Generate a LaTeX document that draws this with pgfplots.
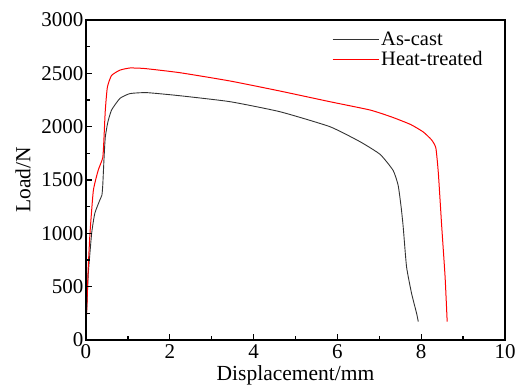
\documentclass[border=0pt]{standalone}
\usepackage{fontspec}
\setmainfont{Liberation Serif}
\usepackage{pgfplots}
\pgfplotsset{compat=1.18}
\begin{document}
\begin{tikzpicture}
\begin{axis}[
  scale only axis,
  width=419pt, height=320pt,
  xmin=0, xmax=10, ymin=0, ymax=3000,
  xtick={0,2,4,6,8,10}, ytick={0,500,1000,1500,2000,2500,3000},
  minor x tick num=1, minor y tick num=1,
  axis on top,
  xtick align=inside, ytick align=inside,
  xtick pos=left, ytick pos=left,
  major tick length=6pt, minor tick length=4pt,
  xtick style={draw=black, line width=1.4pt},
  ytick style={draw=black, line width=1.4pt},
  axis line style={draw=black, line width=1.3pt},
  /pgf/number format/assume math mode=true,
  /pgf/number format/set thousands separator={},
  tick label style={font=\fontsize{21}{24}\selectfont},
  xticklabel style={yshift=-1pt},
  yticklabel style={xshift=1pt},
  xlabel={Displacement/mm}, ylabel={Load/N},
  label style={font=\fontsize{21.5}{24}\selectfont},
  ylabel style={yshift=4pt},
  legend style={at={(0.58,0.975)}, anchor=north west, draw=none, fill=none,
    font=\fontsize{20.5}{22}\selectfont, row sep=0pt,
    /tikz/every even column/.append style={column sep=4pt}},
  legend cell align=left,
  legend image code/.code={\draw[#1] (0pt,0pt) -- (46pt,0pt);},
]
\addplot[color=black!80, line width=0.9pt, smooth, tension=0.3] coordinates {
(0.0,150)(0.03,400)(0.055,625)(0.135,1000)(0.21,1187)(0.33,1312)(0.38,1359)(0.40,1450)(0.43,1700)(0.46,1900)(0.52,2040)(0.61,2156)(0.81,2265)(1.05,2310)(1.45,2319)(2.24,2290)(3.44,2234)(4.63,2140)(5.82,2000)(6.54,1859)(7.02,1740)(7.33,1590)(7.45,1450)(7.52,1250)(7.57,1062)(7.65,687)(7.77,437)(7.89,250)(7.93,172)
};
\addlegendentry{As-cast}
\addplot[color=red, line width=1pt, smooth, tension=0.3] coordinates {
(0.0,150)(0.02,300)(0.05,650)(0.095,1000)(0.175,1400)(0.29,1590)(0.40,1710)(0.43,1900)(0.46,2150)(0.51,2370)(0.61,2480)(0.81,2530)(1.05,2550)(1.4,2545)(2.24,2506)(3.44,2428)(4.63,2334)(5.82,2234)(6.78,2156)(7.3,2090)(7.75,2020)(8.05,1950)(8.25,1875)(8.35,1800)(8.41,1560)(8.49,1062)(8.57,593)(8.62,172)
};
\addlegendentry{Heat-treated}
\end{axis}
\pgfresetboundingbox
\path[use as bounding box] (-86pt,-50pt) rectangle (430pt,340pt);
\end{tikzpicture}
\end{document}
